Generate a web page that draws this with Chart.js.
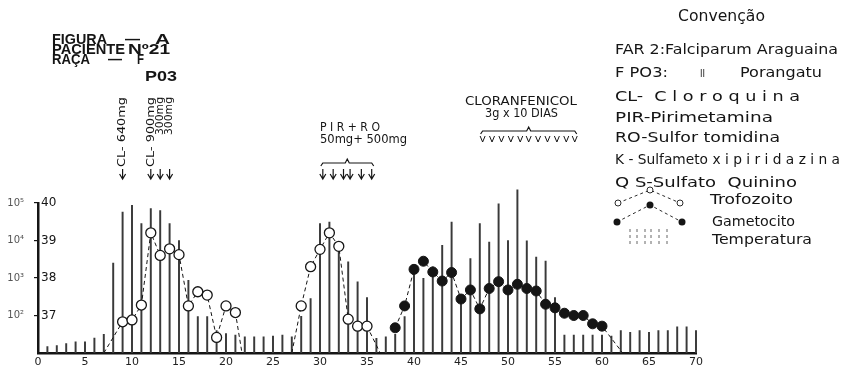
<!DOCTYPE html>
<html>
<head>
<meta charset="utf-8">
<script src="https://cdn.jsdelivr.net/npm/chart.js@4/dist/chart.umd.min.js"></script>
<style>
  html, body { margin: 0; padding: 0; background: #fff; }
  #wrap { width: 843px; height: 370px; }
</style>
</head>
<body>
<div id="wrap"><canvas id="chart" width="843" height="370"></canvas></div>
<script>
// Temperature per day (degrees C)
const tempDays = [1, 2, 3, 4, 5, 6, 7, 8, 9, 10, 11, 12, 13, 14, 15, 16, 17, 18, 19, 20,
  21, 22, 23, 24, 25, 26, 27, 28, 29, 30, 31, 32, 33, 34, 35, 36, 37, 38, 39, 40,
  41, 42, 43, 44, 45, 46, 47, 48, 49, 50, 51, 52, 53, 54, 55, 56, 57, 58, 59, 60,
  61, 62, 63, 64, 65, 66, 67, 68, 69, 70];
const tempValues = [36.17, 36.2, 36.25, 36.3, 36.3, 36.4, 36.5, 38.4, 39.76, 39.94,
  39.45, 39.85, 39.8, 39.45, 39.0, 37.94, 36.97, 36.97, 36.6, 36.52,
  36.48, 36.43, 36.43, 36.43, 36.45, 36.48, 36.43, 36.98, 37.45, 39.45,
  39.49, 38.96, 38.43, 37.9, 37.48, 36.39, 36.43, 36.5, 36.97, 38.3,
  37.99, 38.3, 38.87, 39.49, 37.5, 38.52, 39.45, 38.96, 39.98, 39.0,
  40.35, 38.99, 38.56, 38.45, 37.48, 36.48, 36.48, 36.48, 36.48, 36.48,
  36.45, 36.6, 36.55, 36.6, 36.55, 36.6, 36.6, 36.7, 36.7, 36.6];

// Trophozoites per mm3 (10 = baseline, null = gap)
const trofDays = [7, 9, 10, 11, 12, 13, 14, 15, 16, 17, 18, 19, 20, 21, 21.7, 24,
  27, 28, 29, 30, 31, 32, 33, 34, 35, 36.4];
const trofCounts = [10, 68, 76, 190, 16000, 4000, 6000, 4200, 180, 430, 350, 26, 180, 120, 10, null,
  10, 180, 2000, 5800, 16000, 7000, 80, 52, 52, 10];

// Gametocytes per mm3
const gameDays = [38, 39, 40, 41, 42, 43, 44, 45, 46, 47, 48, 49, 50, 51, 52, 53, 54,
  55, 56, 57, 58, 59, 60, 62.2];
const gameCounts = [47, 180, 1700, 2800, 1450, 830, 1400, 275, 480, 150, 525, 800, 480,
  680, 525, 450, 200, 160, 115, 100, 100, 60, 52, 10];

// Axis ticks
const tempTicks = [37, 38, 39, 40];
const densityTicks = [100, 1000, 10000, 100000];
const densityTickLabels = ['10²', '10³', '10⁴', '10⁵'];

// Drug doses (day of each arrow)
const clDoseDays = [9, 12, 13, 14];
const clDoseLabels = ['CL- 640mg', 'CL- 900mg', '300mg', '300mg'];
const pirDoseDays = [30.3, 31.4, 32.5, 33.2, 34.4, 35.5];
const cloranDoseDays = [47.3, 48.3, 49.3, 50.3, 51.3, 52.2, 53.2, 54.2, 55.2, 56.2, 57.1];

const legendLines = [
  'FAR 2:Falciparum Araguaina',
  'F PO3:',
  'CL-  C l o r o q u i n a',
  'PIR-Pirimetamina',
  'RO-Sulfor tomidina',
  'K - Sulfameto x i p i r i d a z i n a',
  'Q S-Sulfato  Quinino'
];

const INK = '#151515';
const SANS = '"DejaVu Sans", sans-serif';

// draw text squeezed/stretched to a given width
function fitText(ctx, text, x, y, w) {
  const m = ctx.measureText(text).width;
  ctx.save();
  ctx.translate(x, y);
  ctx.scale(w / m, 1);
  ctx.fillText(text, 0, 0);
  ctx.restore();
}

function arrowDown(ctx, x, y0, y1) {
  ctx.beginPath();
  ctx.moveTo(x, y0); ctx.lineTo(x, y1);
  ctx.moveTo(x - 3, y1 - 5); ctx.lineTo(x, y1); ctx.lineTo(x + 3, y1 - 5);
  ctx.stroke();
}

function vee(ctx, x, y0, y1) {
  ctx.beginPath();
  ctx.moveTo(x - 2.5, y0); ctx.lineTo(x, y1); ctx.lineTo(x + 2.5, y0);
  ctx.stroke();
}

function brace(ctx, x0, x1, y) {
  const mid = (x0 + x1) / 2;
  ctx.beginPath();
  ctx.moveTo(x0 - 2, y + 3);
  ctx.lineTo(x0, y);
  ctx.lineTo(mid - 2, y);
  ctx.lineTo(mid, y - 4);
  ctx.lineTo(mid + 2, y);
  ctx.lineTo(x1, y);
  ctx.lineTo(x1 + 2, y + 3);
  ctx.stroke();
}

const sketch = {
  id: 'sketch',
  afterDraw(chart) {
    const ctx = chart.ctx;
    const xs = chart.scales.x;
    ctx.save();
    ctx.fillStyle = INK;
    ctx.strokeStyle = INK;
    ctx.lineWidth = 1.2;
    ctx.textBaseline = 'middle';
    ctx.textAlign = 'left';

    // header block
    ctx.font = 'bold 14px "Liberation Sans Narrow", "Liberation Sans", sans-serif';
    fitText(ctx, 'FIGURA', 52, 40, 55);
    fitText(ctx, '—', 125, 40, 15);
    fitText(ctx, 'A', 155, 40, 15);
    fitText(ctx, 'PACIENTE', 52, 50, 73);
    fitText(ctx, 'Nº21', 128, 50, 42);
    fitText(ctx, 'RAÇA', 52, 60, 38);
    fitText(ctx, '—', 108, 60, 14);
    fitText(ctx, 'F', 137, 60, 7);
    ctx.font = 'bold 15px "Liberation Sans Narrow", "Liberation Sans", sans-serif';
    fitText(ctx, 'P03', 145, 77, 32);

    // chloroquine doses
    ctx.font = '11px ' + SANS;
    clDoseDays.forEach((d, i) => {
      const px = xs.getPixelForValue(d);
      const len = clDoseLabels[i].length > 6 ? 70 : 38;
      ctx.save();
      ctx.translate(px, 97 + len);
      ctx.rotate(-Math.PI / 2);
      fitText(ctx, clDoseLabels[i], 0, 0, len);
      ctx.restore();
      arrowDown(ctx, px, 169, 179);
    });

    // pirimetamina + sulfortomidina
    ctx.font = '12px ' + SANS;
    fitText(ctx, 'P I R + R O', 320, 128, 60);
    fitText(ctx, '50mg+ 500mg', 320, 140, 87);
    const p0 = xs.getPixelForValue(pirDoseDays[0]);
    const p1 = xs.getPixelForValue(pirDoseDays[pirDoseDays.length - 1]);
    brace(ctx, p0, p1, 163);
    pirDoseDays.forEach(d => arrowDown(ctx, xs.getPixelForValue(d), 169, 179));

    // cloranfenicol
    ctx.font = '12px ' + SANS;
    fitText(ctx, 'CLORANFENICOL', 465, 102, 112);
    fitText(ctx, '3g x 10 DIAS', 485, 114, 73);
    const c0 = xs.getPixelForValue(cloranDoseDays[0]);
    const c1 = xs.getPixelForValue(cloranDoseDays[cloranDoseDays.length - 1]);
    brace(ctx, c0, c1, 131);
    ctx.lineWidth = 1;
    cloranDoseDays.forEach(d => vee(ctx, xs.getPixelForValue(d), 136, 142));

    // legend
    ctx.font = '15px ' + SANS;
    fitText(ctx, 'Convenção', 678, 17, 87);
    ctx.font = '14px ' + SANS;
    const widths = [223, 53, 185, 158, 165, 225, 182];
    const ys = [50, 73, 97, 118, 138, 160, 183];
    legendLines.forEach((t, i) => fitText(ctx, t, 615, ys[i], widths[i]));
    fitText(ctx, 'ıı', 700, 73, 5);
    fitText(ctx, 'Porangatu', 740, 73, 82);
    fitText(ctx, 'Trofozoito', 710, 200, 83);
    fitText(ctx, 'Gametocito', 712, 222, 83);
    fitText(ctx, 'Temperatura', 712, 240, 100);

    // legend symbols
    ctx.lineWidth = 0.9;
    ctx.setLineDash([3, 3]);
    ctx.beginPath();
    ctx.moveTo(618, 203); ctx.lineTo(650, 190); ctx.lineTo(680, 203);
    ctx.moveTo(617, 222); ctx.lineTo(650, 205); ctx.lineTo(682, 222);
    ctx.stroke();
    ctx.strokeStyle = '#555';
    [630, 637, 645, 651, 659, 667].forEach(x => {
      ctx.beginPath(); ctx.moveTo(x, 229); ctx.lineTo(x, 244); ctx.stroke();
    });
    ctx.strokeStyle = INK;
    ctx.setLineDash([]);
    [[618, 203], [650, 190], [680, 203]].forEach(([x, y]) => {
      ctx.beginPath(); ctx.arc(x, y, 3, 0, Math.PI * 2);
      ctx.fillStyle = '#fff'; ctx.fill(); ctx.stroke();
    });
    ctx.fillStyle = INK;
    [[617, 222], [650, 205], [682, 222]].forEach(([x, y]) => {
      ctx.beginPath(); ctx.arc(x, y, 3.5, 0, Math.PI * 2); ctx.fill();
    });
    ctx.restore();
  }
};

const hideBaseline = c => (c.raw && c.raw.y > 10 ? 5 : 0);

new Chart(document.getElementById('chart'), {
  type: 'line',
  data: {
    datasets: [
      {
        type: 'bar',
        label: 'Temperatura',
        yAxisID: 'yt',
        data: tempDays.map((d, i) => ({ x: d, y: tempValues[i] })),
        backgroundColor: '#3a3a3a',
        barThickness: 1.3,
        clip: { top: false, left: 3, right: 3, bottom: 0 },
        order: 3
      },
      {
        label: 'Trofozoito',
        yAxisID: 'yp',
        data: trofDays.map((d, i) => ({ x: d, y: trofCounts[i] })),
        borderColor: INK,
        borderWidth: 1,
        borderDash: [4, 3],
        pointRadius: hideBaseline,
        pointBackgroundColor: '#fff',
        pointBorderColor: INK,
        pointBorderWidth: 1.3,
        order: 1
      },
      {
        label: 'Gametocito',
        yAxisID: 'yp',
        data: gameDays.map((d, i) => ({ x: d, y: gameCounts[i] })),
        borderColor: INK,
        borderWidth: 1,
        borderDash: [4, 3],
        pointRadius: hideBaseline,
        pointBackgroundColor: INK,
        pointBorderColor: INK,
        pointBorderWidth: 1,
        order: 2
      }
    ]
  },
  options: {
    responsive: false,
    animation: false,
    layout: { padding: { left: 0, top: 203, right: 147, bottom: 0 } },
    plugins: { legend: { display: false }, tooltip: { enabled: false } },
    scales: {
      x: {
        type: 'linear',
        min: 0,
        max: 70,
        offset: false,
        grid: { display: false, drawTicks: false },
        border: { display: true, color: INK, width: 2.5 },
        ticks: { stepSize: 5, padding: 3, color: '#222', font: { family: 'DejaVu Sans', size: 11 } },
        afterFit: s => { s.height = 17; }
      },
      yt: {
        type: 'linear',
        position: 'left',
        weight: 0,
        min: 36,
        max: 40,
        afterBuildTicks: s => { s.ticks = tempTicks.map(v => ({ value: v })); },
        grid: { display: true, drawOnChartArea: false, tickLength: 4, color: INK, lineWidth: 1.2 },
        border: { display: true, color: INK, width: 2.5 },
        ticks: { mirror: true, padding: 3, color: INK, font: { family: 'DejaVu Sans', size: 12 } },
        afterFit: s => { s.width = 8; }
      },
      yp: {
        type: 'logarithmic',
        position: 'left',
        weight: 1,
        min: 10,
        max: 100000,
        afterBuildTicks: s => { s.ticks = densityTicks.map(v => ({ value: v })); },
        grid: { display: false, drawTicks: false },
        border: { display: false },
        ticks: {
          padding: 6,
          color: '#555',
          font: { family: 'DejaVu Sans', size: 10 },
          callback: v => densityTickLabels[densityTicks.indexOf(v)]
        },
        afterFit: s => { s.width = 30; }
      }
    }
  },
  plugins: [sketch]
});
</script>
</body>
</html>
